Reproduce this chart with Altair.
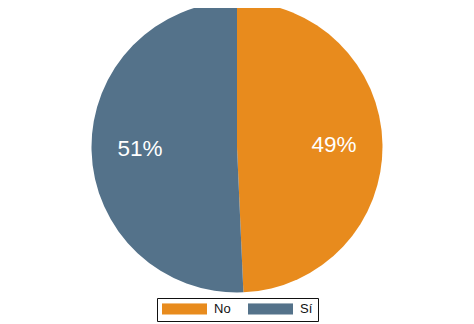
import altair as alt
import pandas as pd

cats = ["No", "Sí"]
vals = [49.3, 50.7]
labels = ["49%", "51%"]
colors = ["#E88B1D", "#54728A"]

df = pd.DataFrame({"cat": cats, "val": vals, "lab": labels})

base = alt.Chart(df).encode(
    theta=alt.Theta("val:Q", stack=True),
    order=alt.Order("cat:N"),
)

arc = base.mark_arc(outerRadius=145.5).encode(
    color=alt.Color(
        "cat:N",
        scale=alt.Scale(domain=cats, range=colors),
        legend=alt.Legend(
            title=None,
            orient="none",
            legendX=149,
            legendY=290,
            direction="horizontal",
            strokeColor="#111",
            fillColor="white",
            padding=5,
            symbolType="M-1,-0.25L1,-0.25L1,0.25L-1,0.25Z",
            symbolSize=2025,
            symbolStrokeWidth=0,
            symbolOpacity=1,
            clipHeight=11,
            labelFont="Liberation Sans",
            labelFontSize=13,
            labelColor="#111",
            labelOffset=7,
            columnPadding=17,
        ),
    )
)

text = base.mark_text(
    radius=97, fontSize=22.5, color="white", font="Liberation Sans"
).encode(text="lab:N")

chart = (
    (arc + text)
    .properties(
        width=458,
        height=278,
        autosize=alt.AutoSizeParams(type="none"),
        padding={"left": 0, "top": 0, "right": 0, "bottom": 42},
    )
    .configure_view(stroke=None)
)

chart.save("out.html", embed_options={"renderer": "svg", "actions": False})
